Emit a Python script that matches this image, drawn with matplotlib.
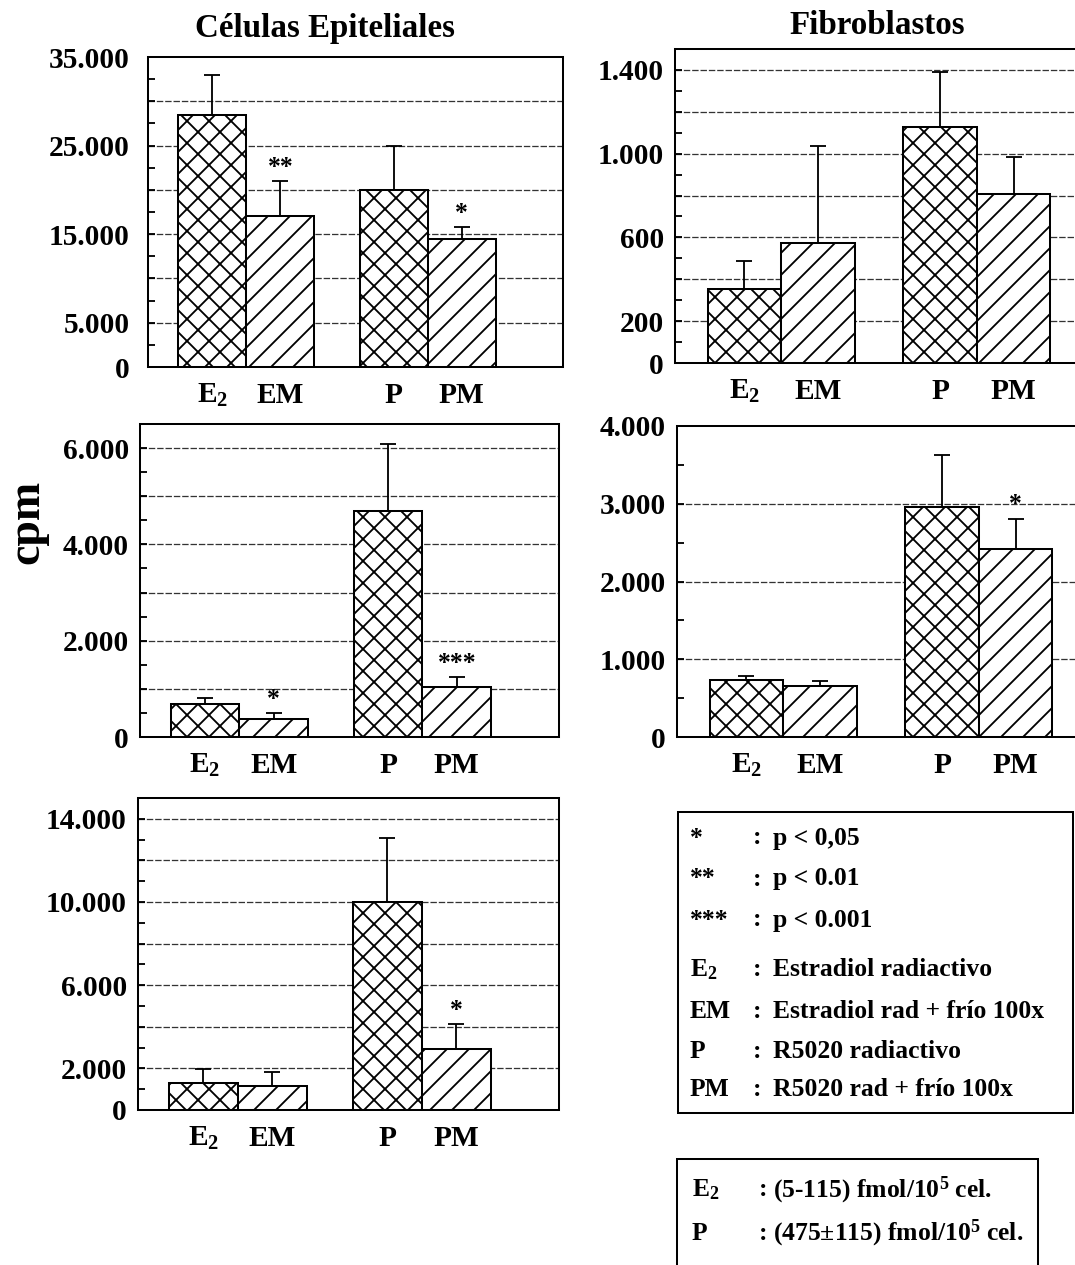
import numpy as np
import matplotlib
matplotlib.use('Agg')
import matplotlib.pyplot as plt
from matplotlib.patches import Rectangle

plt.rcParams['font.family'] = ['Liberation Serif', 'DejaVu Serif']
plt.rcParams['font.weight'] = 'bold'
plt.rcParams['mathtext.default'] = 'regular'
plt.rcParams['hatch.linewidth'] = 1.0

groups = ['E$_2$', 'EM', 'P', 'PM']
hatches = ['xx', '//', 'xx', '//']

# Células epiteliales, three experiments
epi_a_vals = [28500, 17000, 20000, 14500]
epi_a_err = [4500, 4000, 5000, 1300]
epi_a_sig = ['', '**', '', '*']

epi_b_vals = [690, 370, 4700, 1030]
epi_b_err = [115, 125, 1380, 210]
epi_b_sig = ['', '*', '', '***']

epi_c_vals = [1300, 1150, 10000, 2950]
epi_c_err = [670, 700, 3100, 1170]
epi_c_sig = ['', '', '', '*']

# Fibroblastos, two experiments
fib_a_vals = [355, 573, 1126, 808]
fib_a_err = [130, 465, 263, 176]
fib_a_sig = ['', '', '', '']

fib_b_vals = [735, 650, 2960, 2420]
fib_b_err = [50, 65, 665, 390]
fib_b_sig = ['', '', '', '*']

legend_keys = ['*', '**', '***', 'E$_2$', 'EM', 'P', 'PM']
legend_desc = ['p < 0,05', 'p < 0.01', 'p < 0.001', 'Estradiol radiactivo',
               'Estradiol rad + frío 100x', 'R5020 radiactivo', 'R5020 rad + frío 100x']
conc_keys = ['E$_2$', 'P']
conc_desc = ['(5-115) fmol/10$^5$ cel.', '(475±115) fmol/10$^5$ cel.']

DPI = 132
W, H = 1075, 1265
fig = plt.figure(figsize=(W / DPI, H / DPI), dpi=DPI)


def box(x0, y0, x1, y1):
    return [x0 / W, 1 - y1 / H, (x1 - x0) / W, (y1 - y0) / H]


xpos = np.array([1.55, 3.19, 5.92, 7.56])
bw = 1.64


def panel(rect, vals, errs, sig, ymax, grid, step, labeled, pad):
    ax = fig.add_axes(rect)
    ax.set_xlim(0, 10)
    ax.set_ylim(0, ymax)
    for g in np.arange(grid, ymax, grid):
        ax.axhline(g, color='#333333', lw=0.7, ls=(0, (5, 1.5)), zorder=1)
    bars = ax.bar(xpos, vals, bw, color='white', edgecolor='black', lw=1.1, zorder=2)
    for b, h in zip(bars, hatches):
        b.set_hatch(h)
    ax.errorbar(xpos, vals, yerr=[np.zeros(len(vals)), errs], fmt='none',
                ecolor='black', elinewidth=1.0, capsize=4.4, capthick=1.0, zorder=3)
    for x, v, e, s in zip(xpos, vals, errs, sig):
        if s:
            ax.annotate(s, xy=(x, v + e), xytext=(0, 4), textcoords='offset points',
                        ha='center', va='baseline', fontsize=14)
    for x, g in zip(xpos, groups):
        ax.annotate(g, xy=(x, 0), xycoords=('data', 'axes fraction'),
                    xytext=(0, -36 * 72 / DPI), textcoords='offset points',
                    ha='center', va='baseline', fontsize=16)
    ticks = np.arange(0, ymax + 1, step)
    ax.set_yticks(ticks)
    ax.set_yticklabels(['{:,}'.format(int(t)).replace(',', '.') if t in labeled else ''
                        for t in ticks])
    ax.tick_params(axis='y', direction='in', length=4, width=1.0, pad=pad, labelsize=16)
    ax.tick_params(axis='x', bottom=False, labelbottom=False)
    for sp in ax.spines.values():
        sp.set_linewidth(1.1)
    return ax


panel(box(148, 57, 563, 367), epi_a_vals, epi_a_err, epi_a_sig,
      35000, 5000, 2500, [0, 5000, 15000, 25000, 35000], 10)
panel(box(675, 49, 1123, 363), fib_a_vals, fib_a_err, fib_a_sig,
      1500, 200, 100, [0, 200, 600, 1000, 1400], 6)
panel(box(140, 424, 559, 737), epi_b_vals, epi_b_err, epi_b_sig,
      6500, 1000, 500, [0, 2000, 4000, 6000], 6)
panel(box(677, 426, 1125, 737), fib_b_vals, fib_b_err, fib_b_sig,
      4000, 1000, 500, [0, 1000, 2000, 3000, 4000], 6)
panel(box(138, 798, 559, 1110), epi_c_vals, epi_c_err, epi_c_sig,
      15000, 2000, 1000, [0, 2000, 6000, 10000, 14000], 6)

fig.text(325 / W, 1 - 29 / H, 'Células Epiteliales', ha='center', va='center', fontsize=18)
fig.text(877 / W, 1 - 25 / H, 'Fibroblastos', ha='center', va='center', fontsize=18)
fig.text(27 / W, 1 - 522 / H, 'cpm', rotation=90, ha='center', va='center', fontsize=25)

# legend boxes
fig.add_artist(Rectangle((678 / W, 1 - 1113 / H), 395 / W, 301 / H,
                         transform=fig.transFigure, fill=False, lw=1.1, ec='black'))
rows = [838, 879, 920, 970, 1012, 1052, 1090]
for y, k, d in zip(rows, legend_keys, legend_desc):
    fig.text(690 / W, 1 - y / H, k, ha='left', va='center', fontsize=14)
    fig.text(757 / W, 1 - y / H, ':', ha='center', va='center', fontsize=14)
    fig.text(773 / W, 1 - y / H, d, ha='left', va='center', fontsize=14)

fig.add_artist(Rectangle((677 / W, 1 - 1290 / H), 361 / W, 131 / H,
                         transform=fig.transFigure, fill=False, lw=1.1, ec='black'))
for y, k, d in zip([1190, 1233], conc_keys, conc_desc):
    fig.text(692 / W, 1 - y / H, k, ha='left', va='center', fontsize=14)
    fig.text(763 / W, 1 - y / H, ':', ha='center', va='center', fontsize=14)
    fig.text(773 / W, 1 - y / H, d, ha='left', va='center', fontsize=14)

fig.savefig('out.png', dpi=DPI)
